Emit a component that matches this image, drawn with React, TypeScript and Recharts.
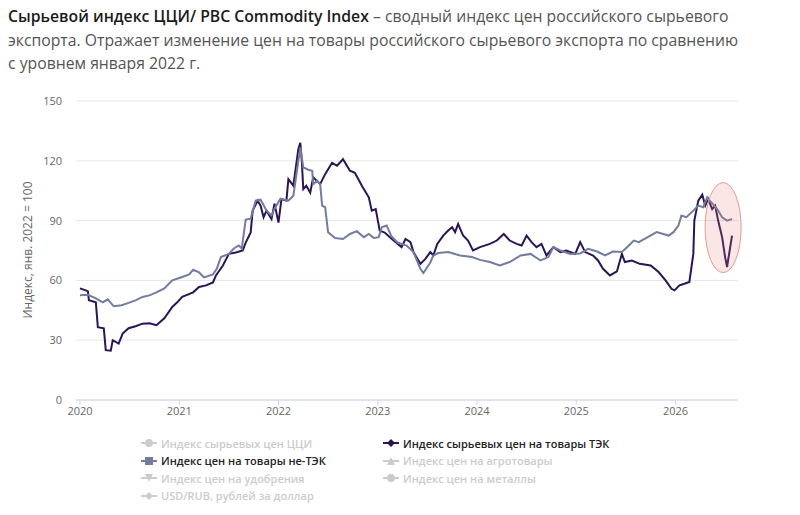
import React from 'react';
import { LineChart, Line, XAxis, YAxis, CartesianGrid, ReferenceDot } from 'recharts';

// Dark line: fuel & energy (ТЭК) index, Jan 2022 = 100
const tekYears = [
  2020.0, 2020.06, 2020.08, 2020.09, 2020.16, 2020.18, 2020.24, 2020.26, 2020.31, 2020.33,
  2020.39, 2020.43, 2020.49, 2020.56, 2020.63, 2020.7, 2020.77, 2020.85, 2020.93, 2020.98,
  2021.03, 2021.14, 2021.2, 2021.27, 2021.34, 2021.37, 2021.44, 2021.5, 2021.57, 2021.64,
  2021.67, 2021.72, 2021.74, 2021.79, 2021.82, 2021.85, 2021.88, 2021.91, 2021.93, 2021.96,
  2022.0, 2022.03, 2022.08, 2022.1, 2022.15, 2022.2, 2022.22, 2022.235, 2022.25, 2022.28,
  2022.32, 2022.35, 2022.42, 2022.47, 2022.54, 2022.59, 2022.65, 2022.72, 2022.77, 2022.84,
  2022.91, 2022.94, 2022.98, 2023.02, 2023.07, 2023.16, 2023.24, 2023.28, 2023.33, 2023.36,
  2023.43, 2023.48, 2023.53, 2023.56, 2023.6, 2023.66, 2023.71, 2023.75, 2023.78, 2023.81,
  2023.86, 2023.91, 2023.96, 2024.03, 2024.13, 2024.2, 2024.27, 2024.33, 2024.4, 2024.45,
  2024.5, 2024.55, 2024.6, 2024.65, 2024.7, 2024.77, 2024.84, 2024.9, 2024.99, 2025.04,
  2025.09, 2025.17, 2025.22, 2025.27, 2025.34, 2025.41, 2025.46, 2025.49, 2025.56, 2025.64,
  2025.75, 2025.83, 2025.9, 2025.96, 2025.99, 2026.04, 2026.09, 2026.14, 2026.18, 2026.19,
  2026.23, 2026.27, 2026.3, 2026.33, 2026.37, 2026.4, 2026.43, 2026.47, 2026.5, 2026.52,
  2026.53, 2026.57,
];
const tekValues = [
  56, 55, 54.5, 50, 49, 36.5, 36, 25, 24.7, 30,
  28.3, 33.3, 36, 37, 38.3, 38.5, 37.5, 41, 46.7, 49,
  51.7, 54, 56.7, 57.5, 59, 62.5, 67.5, 73.3, 74, 75,
  79, 84, 95, 100, 97.5, 91.7, 95, 92.5, 90.8, 98.5,
  89, 100.8, 100, 110.8, 107.5, 125.8, 129, 120, 105.8, 107.5,
  104, 111.7, 108.3, 113.3, 119, 117.5, 120.8, 115, 114, 107.5,
  101.7, 95, 95.8, 85, 84, 80, 76.7, 80.8, 79.2, 74.2,
  68.3, 70.8, 74.2, 72.5, 78.3, 82.5, 85, 86.7, 84.2, 88.3,
  82.5, 80, 75, 76.7, 78.3, 80, 83.3, 80, 78.3, 77.5,
  82.5, 79.2, 76.7, 78.3, 72.5, 76.7, 74.2, 75, 73.3, 79.2,
  74.2, 72.5, 70, 65.8, 62.5, 64.5, 73.3, 69.2, 70, 68.3,
  67.5, 64.2, 60, 55.8, 55, 57.5, 58.3, 59.2, 73.3, 90,
  100, 103, 97.5, 100.8, 95.8, 97.5, 90, 81.7, 71.7, 66.7,
  70, 82.5,
];

// Grey line: non-energy (не-ТЭК) index
const nonTekYears = [
  2020.0, 2020.08, 2020.16, 2020.23, 2020.28, 2020.34, 2020.42, 2020.49, 2020.56, 2020.63,
  2020.7, 2020.77, 2020.85, 2020.93, 2021.03, 2021.1, 2021.14, 2021.2, 2021.25, 2021.34,
  2021.38, 2021.42, 2021.5, 2021.55, 2021.6, 2021.63, 2021.67, 2021.72, 2021.77, 2021.82,
  2021.88, 2021.93, 2021.96, 2022.02, 2022.1, 2022.15, 2022.22, 2022.25, 2022.3, 2022.34,
  2022.35, 2022.39, 2022.42, 2022.44, 2022.47, 2022.5, 2022.57, 2022.65, 2022.72, 2022.79,
  2022.86, 2022.91, 2022.96, 2023.01, 2023.04, 2023.09, 2023.14, 2023.2, 2023.29, 2023.36,
  2023.43, 2023.46, 2023.53, 2023.56, 2023.61, 2023.71, 2023.83, 2023.95, 2024.03, 2024.13,
  2024.23, 2024.33, 2024.44, 2024.54, 2024.64, 2024.72, 2024.77, 2024.84, 2024.94, 2025.04,
  2025.12, 2025.21, 2025.29, 2025.37, 2025.46, 2025.53, 2025.58, 2025.63, 2025.72, 2025.81,
  2025.93, 2025.98, 2026.03, 2026.06, 2026.11, 2026.18, 2026.23, 2026.28, 2026.32, 2026.36,
  2026.42, 2026.47, 2026.52, 2026.57,
];
const nonTekValues = [
  52.5, 52.8, 51, 49, 50.5, 47, 47.5, 48.7, 50, 51.7,
  52.5, 54, 56, 60, 61.7, 63, 65.3, 64, 61.5, 63,
  66, 71.7, 73.3, 76, 77.5, 76, 90.5, 91, 100, 100.5,
  95, 92.5, 96, 101, 100, 102.5, 126.7, 116.7, 115.5, 115,
  108.3, 110, 108.3, 97.5, 96.7, 84.2, 81.3, 80.8, 83.3, 84.7,
  81.7, 83.3, 81.3, 81.7, 86.7, 87.5, 82, 79, 77.5, 74.2,
  65.8, 63.7, 69, 72.5, 73.7, 74.2, 72.5, 71.7, 70.3, 69.2,
  67.5, 69.2, 72.5, 73.3, 70, 71.7, 76.7, 75, 73.3, 73.5,
  75.8, 74.5, 72.5, 74.5, 74.2, 77.5, 80, 79.2, 81.7, 84.2,
  82.5, 84.2, 87.5, 92.5, 91.7, 95, 97.5, 96.7, 101.7, 99.2,
  95.8, 91.7, 90, 90.8,
];

const yearTicks = [2020, 2021, 2022, 2023, 2024, 2025, 2026];
const valueTicks = [0, 30, 60, 90, 120, 150];

const legendItems = [
  { name: 'Индекс сырьевых цен ЦЦИ', symbol: 'circle', active: false },
  { name: 'Индекс сырьевых цен на товары ТЭК', symbol: 'diamond', active: true },
  { name: 'Индекс цен на товары не-ТЭК', symbol: 'square', active: true },
  { name: 'Индекс цен на агротовары', symbol: 'triangle', active: false },
  { name: 'Индекс цен на удобрения', symbol: 'triangle-down', active: false },
  { name: 'Индекс цен на металлы', symbol: 'circle', active: false },
  { name: 'USD/RUB, рублей за доллар', symbol: 'diamond', active: false },
];

const TEK_COLOR = '#2b1456';
const NON_TEK_COLOR = '#717c9f';
const HIDDEN_COLOR = '#cccccc';
const FONT = '"Open Sans", "Noto Sans", sans-serif';

const tekData = tekYears.map((t, i) => ({ t, v: tekValues[i] }));
const nonTekData = nonTekYears.map((t, i) => ({ t, v: nonTekValues[i] }));

function LegendSymbol({ symbol, color }: { symbol: string; color: string }) {
  let marker: React.ReactNode = null;
  if (symbol === 'circle') marker = <circle cx={8} cy={6} r={4} fill={color} />;
  if (symbol === 'diamond') marker = <polygon points="8,2 12,6 8,10 4,6" fill={color} />;
  if (symbol === 'square') marker = <rect x={4} y={2} width={8} height={8} fill={color} />;
  if (symbol === 'triangle') marker = <polygon points="8,2 12,10 4,10" fill={color} />;
  if (symbol === 'triangle-down') marker = <polygon points="4,2 12,2 8,10" fill={color} />;
  return (
    <svg width={16} height={12} style={{ marginRight: 4, flex: 'none' }}>
      <line x1={0} y1={6} x2={16} y2={6} stroke={color} strokeWidth={2} />
      {marker}
    </svg>
  );
}

export default function App() {
  const series = [TEK_COLOR, NON_TEK_COLOR];
  return (
    <div style={{ position: 'absolute', left: 0, top: 0, width: 800, height: 515, background: '#fff', fontFamily: FONT }}>
      <div style={{ position: 'absolute', left: 8, top: 5, width: 790, fontSize: 15.75, lineHeight: '23.5px', color: '#555' }}>
        <span style={{ fontWeight: 600, color: '#1a1a1a' }}>Сырьевой индекс ЦЦИ/ PBC Commodity Index</span>
        {' – сводный индекс цен российского сырьевого'}
        <br />
        экспорта. Отражает изменение цен на товары российского сырьевого экспорта по сравнению
        <br />
        с уровнем января 2022 г.
      </div>

      <div style={{ position: 'absolute', left: 0, top: 0 }}>
        <LineChart width={800} height={430} margin={{ top: 101, right: 62, bottom: 0, left: 0 }}>
          <CartesianGrid horizontal vertical={false} stroke="#e6e6e6" />
          <XAxis
            type="number"
            dataKey="t"
            domain={[2019.96, 2026.63]}
            ticks={yearTicks}
            allowDataOverflow
            height={30}
            stroke="#ccd6eb"
            tickSize={5}
            tickMargin={2}
            tick={{ fill: '#666', fontSize: 11, fontFamily: FONT }}
          />
          <YAxis
            type="number"
            domain={[0, 150]}
            ticks={valueTicks}
            width={76}
            axisLine={false}
            tickLine={false}
            tickMargin={8}
            tick={{ fill: '#666', fontSize: 11, fontFamily: FONT }}
            label={{
              content: () => (
                <text x={29} y={250} transform="rotate(-90 29 250)" textAnchor="middle" dominantBaseline="middle" fill="#666" fontSize={12} fontFamily={FONT}>
                  Индекс, янв. 2022 = 100
                </text>
              ),
            }}
          />
          <Line data={tekData} dataKey="v" type="linear" stroke={series[0]} strokeWidth={2} dot={false} isAnimationActive={false} />
          <Line data={nonTekData} dataKey="v" type="linear" stroke={series[1]} strokeWidth={2} dot={false} isAnimationActive={false} />
          <ReferenceDot
            x={2026.48}
            y={86.5}
            shape={(p: any) => (
              <ellipse cx={p.cx} cy={p.cy} rx={18} ry={45} fill="rgba(232,130,120,0.2)" stroke="#e39a90" strokeWidth={1} />
            )}
          />
        </LineChart>
      </div>

      <div
        style={{
          position: 'absolute',
          left: 141,
          top: 435,
          display: 'grid',
          gridTemplateColumns: '242px 300px',
          rowGap: 1,
          fontSize: 11,
        }}
      >
        {legendItems.map((item) => {
          const color = item.active ? (item.symbol === 'diamond' ? TEK_COLOR : NON_TEK_COLOR) : HIDDEN_COLOR;
          return (
            <div key={item.name} style={{ display: 'flex', alignItems: 'center', height: 16.5, color: item.active ? '#222' : HIDDEN_COLOR, fontWeight: 600, whiteSpace: 'nowrap' }}>
              <LegendSymbol symbol={item.symbol} color={color} />
              {item.name}
            </div>
          );
        })}
      </div>
    </div>
  );
}
